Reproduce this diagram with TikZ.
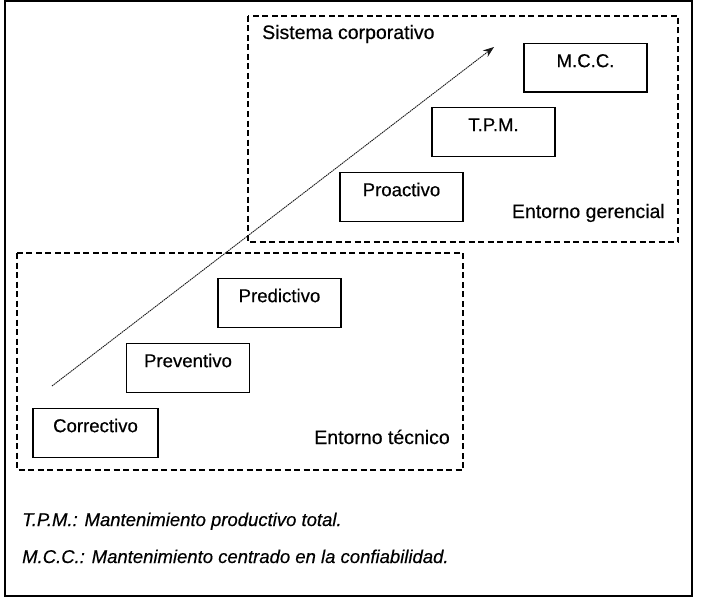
\documentclass[tikz,border=0pt]{standalone}
\usepackage{fontspec}
\setmainfont[FakeBold=0.4]{Liberation Sans}
\usetikzlibrary{arrows.meta}
\tikzset{
  stage/.style={draw, line width=1.3pt, inner xsep=0pt, inner ysep=0pt, minimum width=123pt,
    text height=23.5pt, text depth=25pt, anchor=north, font=\fontsize{18.6}{20}\selectfont},
  zone/.style={draw, line width=1.5pt, dash pattern=on 6pt off 3.5pt},
  lbl/.style={inner sep=0pt, font=\fontsize{19.5}{22}\selectfont},
  note/.style={inner sep=0pt, anchor=base west, font=\fontsize{18.5}{22}\selectfont\itshape},
  trend/.style={line width=0.9pt, black!90, dash pattern=on 1.5pt off 0.7pt, -{Stealth[length=11pt,width=8pt]}}
}
\begin{document}
\begin{tikzpicture}[x=1pt,y=-1pt]
\useasboundingbox (0,0) rectangle (702,602);
\draw[line width=1.8pt] (5,1) rectangle (692,596);
\draw[zone] (248,16) rectangle (678,242);
\draw[zone] (17,253) rectangle (463,470);
\node[lbl, anchor=base west] (sc) at (262,39) {Sistema corporativo};
\node[lbl, anchor=base east] (eg) at (665,218) {Entorno gerencial};
\node[lbl, anchor=base east] (et) at (450,444) {Entorno técnico};
\node[stage] (mcc) at (585.5,43) {M.C.C.};
\node[stage] (tpm) at (493.5,107) {T.P.M.};
\node[stage] (pro) at (401.5,172) {Proactivo};
\node[stage] (pre) at (279.5,278) {Predictivo};
\node[stage] (prv) at (188,343) {Preventivo};
\node[stage, minimum width=125pt] (cor) at (95.5,408) {Correctivo};
\coordinate (a0) at (52,386);
\coordinate (a1) at (494,47);
\draw[trend] (a0) -- (a1);
\node[note] (n1) at (22,526) {T.P.M.: Mantenimiento productivo total.};
\node[note] (n2) at (22,563) {M.C.C.: Mantenimiento centrado en la confiabilidad.};
\end{tikzpicture}
\end{document}
